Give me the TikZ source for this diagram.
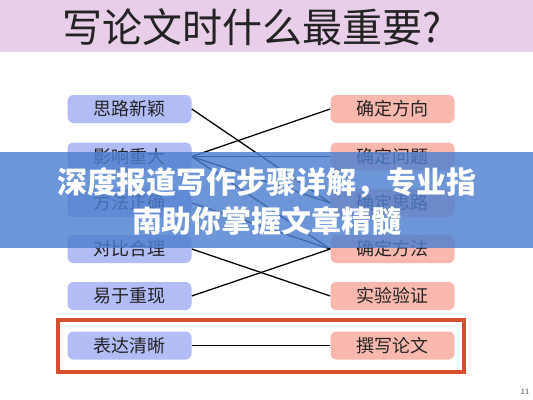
\documentclass[tikz,border=0pt]{standalone}
\usepackage{fontspec}
\newfontfamily\cjk{Noto Sans CJK SC}
\usetikzlibrary{positioning}
\definecolor{bandpink}{RGB}{232,206,232}
\definecolor{leftbox}{RGB}{178,188,245}
\definecolor{rightbox}{RGB}{249,184,174}
\definecolor{framered}{RGB}{214,78,48}
\definecolor{bannerblue}{RGB}{78,128,208}
\definecolor{txtdark}{RGB}{35,35,35}
\tikzset{
  lbox/.style={fill=leftbox, rounded corners=4.5pt, minimum width=93pt, minimum height=21pt, inner sep=0pt, font=\cjk\fontsize{13.5}{15}\selectfont, text=txtdark},
  rbox/.style={fill=rightbox, rounded corners=4.5pt, minimum width=93pt, minimum height=21pt, inner sep=0pt, font=\cjk\fontsize{13.5}{15}\selectfont, text=txtdark},
  link/.style={draw=black, line width=0.95pt},
}
\begin{document}
\begin{tikzpicture}[x=0.75pt,y=-0.75pt]
\useasboundingbox (0,0) rectangle (533,400);
\fill[white] (0,0) rectangle (533,400);
% title band
\fill[bandpink] (0,0) rectangle (533,52);
\node[font=\cjk\fontsize{30}{32}\selectfont, text=txtdark, inner sep=0pt] (title) at (252,27) {写论文时什么最重要?};
% left boxes
\node[lbox] (l1) at (129.5,109) {思路新颖};
\node[lbox] (l2) at (129.5,156.5) {影响重大};
\node[lbox] (l3) at (129.5,203) {方法正确};
\node[lbox] (l4) at (129.5,249) {对比合理};
\node[lbox] (l5) at (129.5,296) {易于重现};
\node[lbox] (l6) at (129.5,345.5) {表达清晰};
% right boxes
\node[rbox] (r1) at (392.5,109) {确定方向};
\node[rbox] (r2) at (392.5,156.5) {确定问题};
\node[rbox] (r3) at (392.5,203) {确定思路};
\node[rbox] (r4) at (392.5,249) {确定方法};
\node[rbox] (r5) at (392.5,296) {实验验证};
\node[rbox] (r6) at (392.5,345.5) {撰写论文};
% links
\draw[link] (l1.east) -- (r3.west);
\draw[link] (l2.east) -- (r1.west);
\draw[link] (l2.east) -- (r2.west);
\draw[link] (l2.east) -- (r3.west);
\draw[link] (l2.east) -- (r4.west);
\draw[link] (l3.east) -- (r4.west);
\draw[link] (l4.east) -- (r5.west);
\draw[link] (l5.east) -- (r4.west);
\draw[link] (l6.east) -- (r6.west);
% red frame
\draw[framered, line width=2.3pt] (58,320) rectangle (464,372);
% page number
\node[font=\sffamily\fontsize{6}{7}\selectfont, text=black!70, inner sep=0pt] (pg) at (525,392) {11};
% banner overlay
\fill[bannerblue, opacity=0.82] (0,152) rectangle (533,248);
\node[font=\cjk\bfseries\fontsize{22.5}{24}\selectfont, text=white, inner sep=0pt] (b1) at (267,183) {深度报道写作步骤详解，专业指};
\node[font=\cjk\bfseries\fontsize{22.5}{24}\selectfont, text=white, inner sep=0pt] (b2) at (267,221) {南助你掌握文章精髓};
\end{tikzpicture}
\end{document}
